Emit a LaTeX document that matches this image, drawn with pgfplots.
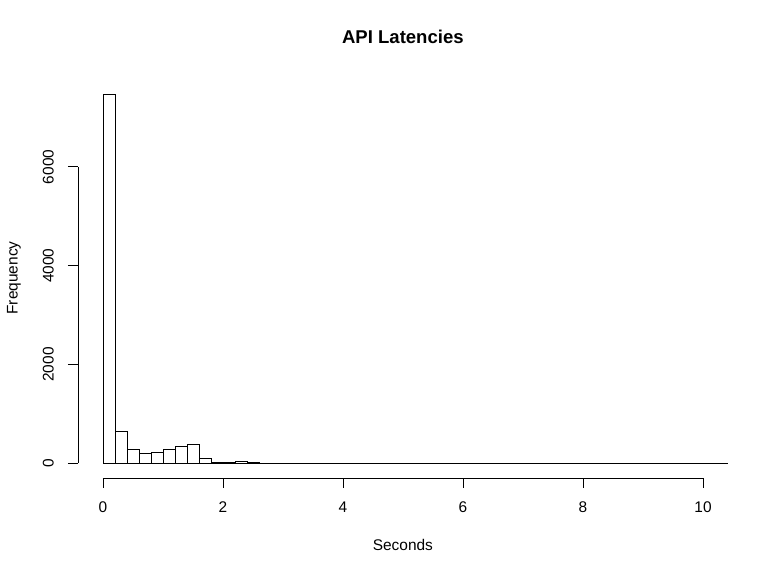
\documentclass[border=0pt]{standalone}
\usepackage{pgfplots}
\pgfplotsset{compat=1.18}
\usepackage{fontspec}
\setmainfont{Liberation Sans}
\begin{document}
\begin{tikzpicture}
\begin{axis}[
  at={(78bp,98bp)}, anchor=south west,
  scale only axis, width=674bp, height=400bp,
  xmin=-0.416, xmax=10.816, ymin=-300, ymax=7800,
  axis line style={draw=none},
  clip=false,
  xtick={0,2,4,6,8,10}, ytick={0,2000,4000,6000},
  xtick pos=bottom, ytick pos=left,
  tick align=outside, major tick length=10bp,
  tick style={black, line width=0.8bp},
  tick label style={font=\fontsize{15.5}{18}\selectfont},
  /pgf/number format/assume math mode=true,
  /pgf/number format/set thousands separator={},
  xticklabel style={anchor=north, inner sep=0pt, yshift=-14bp},
  yticklabel style={rotate=90, anchor=south, inner sep=0pt, yshift=14bp},
  title={API Latencies},
  title style={at={(axis description cs:0.482,1.0725)}, anchor=base, font=\fontsize{18.6}{22}\selectfont\bfseries},
  xlabel={Seconds},
  xlabel style={at={(axis description cs:0.482,-0.1825)}, anchor=base, font=\fontsize{15.5}{18}\selectfont},
  ylabel={Frequency},
  ylabel style={at={(axis description cs:-0.0895,0.5)}, rotate=0, anchor=base, font=\fontsize{15.5}{18}\selectfont},
]
\addplot[ybar interval, fill=white, draw=black, line width=0.8bp] coordinates {
(0.0,7460) (0.2,635) (0.4,278) (0.6,196) (0.8,216) (1.0,278) (1.2,343) (1.4,372)
(1.6,88) (1.8,20) (2.0,15) (2.2,35) (2.4,12) (2.6,5) (2.8,3) (3.0,2)
(3.2,2) (3.4,1) (3.6,1) (3.8,1) (4.0,1) (4.2,0) (4.4,1) (4.6,0)
(4.8,1) (5.0,0) (5.2,0) (5.4,1) (5.6,0) (5.8,0) (6.0,1) (6.2,0)
(6.4,0) (6.6,0) (6.8,1) (7.0,0) (7.2,0) (7.4,0) (7.6,1) (7.8,0)
(8.0,0) (8.2,0) (8.4,0) (8.6,0) (8.8,1) (9.0,0) (9.2,0) (9.4,0)
(9.6,0) (9.8,0) (10.0,0) (10.2,1) (10.4,1)
};
\draw[black, line width=0.8bp] (axis cs:0,-300) -- (axis cs:10,-300);
\draw[black, line width=0.8bp] (axis cs:-0.416,0) -- (axis cs:-0.416,6000);
\end{axis}
\pgfresetboundingbox
\path (0,0) rectangle (768bp,576bp);
\end{tikzpicture}
\end{document}
